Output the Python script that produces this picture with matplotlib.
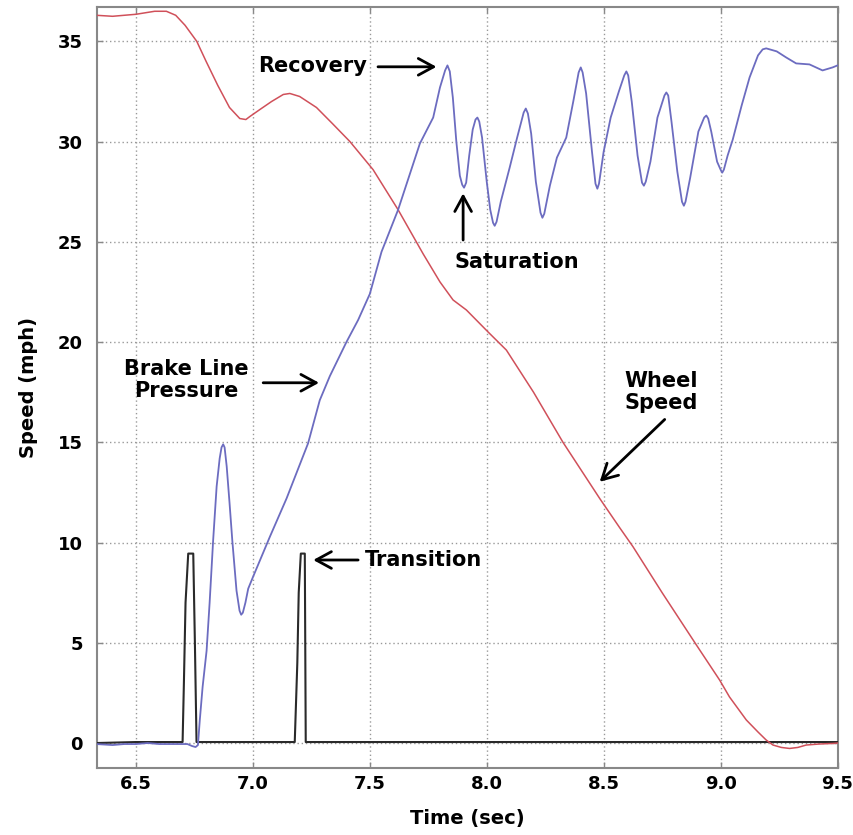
import matplotlib
matplotlib.use("Agg")
import matplotlib.pyplot as plt

# wheel speed (red)
wheel_t = [6.33, 6.40, 6.50, 6.58, 6.63, 6.67, 6.71, 6.76, 6.80, 6.85, 6.90, 6.944, 6.97,
           6.987, 7.03, 7.08, 7.13, 7.158, 7.20, 7.272, 7.34, 7.415, 7.514, 7.621, 7.728,
           7.80, 7.856, 7.913, 8.006, 8.084, 8.20, 8.326, 8.483, 8.568, 8.625, 8.75, 8.896,
           8.996, 9.038, 9.11, 9.16, 9.195, 9.224, 9.26, 9.295, 9.33, 9.366, 9.42, 9.48, 9.5]
wheel_v = [36.3, 36.25, 36.35, 36.5, 36.5, 36.3, 35.8, 35.0, 34.0, 32.8, 31.7, 31.15, 31.1,
           31.25, 31.6, 32.0, 32.35, 32.4, 32.25, 31.7, 30.9, 30.0, 28.6, 26.6, 24.4,
           23.0, 22.1, 21.6, 20.5, 19.6, 17.5, 15.0, 12.2, 10.75, 9.8, 7.5, 4.9,
           3.14, 2.3, 1.15, 0.55, 0.15, -0.1, -0.22, -0.27, -0.22, -0.1, -0.05, -0.02, 0.0]

# brake line pressure (blue)
brake_t = [6.33, 6.40, 6.45, 6.50, 6.55, 6.60, 6.65, 6.70, 6.72, 6.74, 6.755, 6.765, 6.773,
           6.785, 6.802, 6.815, 6.83, 6.845, 6.858, 6.866, 6.873, 6.879, 6.888, 6.90, 6.912,
           6.93, 6.943, 6.95, 6.957, 6.968, 6.98, 7.001, 7.073, 7.144, 7.236, 7.286, 7.329,
           7.40, 7.45, 7.50, 7.55, 7.621, 7.714, 7.771, 7.80, 7.822, 7.832, 7.842, 7.855,
           7.87, 7.885, 7.895, 7.903, 7.912, 7.925, 7.94, 7.952, 7.96, 7.968, 7.98, 8.00,
           8.015, 8.027, 8.034, 8.042, 8.06, 8.098, 8.13, 8.158, 8.167, 8.176, 8.19, 8.21,
           8.23, 8.238, 8.246, 8.27, 8.30, 8.34, 8.37, 8.393, 8.402, 8.41, 8.425, 8.45,
           8.465, 8.473, 8.48, 8.50, 8.53, 8.565, 8.588, 8.597, 8.605, 8.62, 8.645, 8.664,
           8.672, 8.68, 8.70, 8.73, 8.76, 8.768, 8.776, 8.79, 8.815, 8.835, 8.843, 8.85,
           8.87, 8.905, 8.93, 8.939, 8.947, 8.96, 8.985, 9.0, 9.007, 9.014, 9.03, 9.052,
           9.09, 9.124, 9.16, 9.18, 9.195, 9.21, 9.24, 9.28, 9.323, 9.38, 9.436, 9.479, 9.5]
brake_v = [-0.05, -0.1, -0.05, -0.05, 0.0, -0.05, -0.05, -0.05, -0.05, -0.15, -0.2, -0.1, 1.15,
           2.8, 4.6, 7.0, 10.1, 12.8, 14.2, 14.75, 14.9, 14.75, 13.8, 12.0, 10.1,
           7.6, 6.6, 6.4, 6.5, 7.0, 7.7, 8.3, 10.3, 12.2, 14.95, 17.1, 18.3,
           20.0, 21.1, 22.4, 24.5, 26.6, 29.9, 31.2, 32.7, 33.55, 33.8, 33.5, 32.2,
           30.0, 28.3, 27.85, 27.7, 27.95, 29.3, 30.6, 31.1, 31.2, 31.0, 30.2, 28.0,
           26.6, 25.95, 25.8, 26.0, 27.0, 28.7, 30.2, 31.45, 31.65, 31.4, 30.4, 28.0,
           26.45, 26.2, 26.4, 27.8, 29.2, 30.2, 32.0, 33.45, 33.7, 33.45, 32.4, 29.5,
           27.9, 27.65, 27.9, 29.5, 31.2, 32.5, 33.3, 33.5, 33.3, 32.0, 29.3, 27.95,
           27.8, 28.0, 29.0, 31.2, 32.3, 32.45, 32.3, 31.0, 28.5, 27.0, 26.8, 27.0,
           28.2, 30.5, 31.2, 31.3, 31.15, 30.5, 29.0, 28.6, 28.45, 28.6, 29.3, 30.1,
           31.8, 33.2, 34.3, 34.6, 34.65, 34.6, 34.5, 34.2, 33.9, 33.85, 33.55, 33.7, 33.8]

# transition signal (black)
trans_t = [6.33, 6.50, 6.6994, 6.705, 6.712, 6.7235, 6.745, 6.752, 6.759, 7.00,
           7.179, 7.19, 7.196, 7.205, 7.222, 7.226, 7.60, 8.20, 9.00, 9.5]
trans_v = [0.0, 0.05, 0.05, 3.0, 7.0, 9.45, 9.45, 5.0, 0.05, 0.05,
           0.05, 4.0, 7.5, 9.45, 9.45, 0.05, 0.05, 0.05, 0.05, 0.05]

xticks = [6.5, 7.0, 7.5, 8.0, 8.5, 9.0, 9.5]
yticks = [0, 5, 10, 15, 20, 25, 30, 35]

fig = plt.figure(figsize=(8.54, 8.35), dpi=100)
ax = fig.add_axes([0.1132, 0.0806, 0.8675, 0.9107])

ax.plot(trans_t, trans_v, color="#2a2a2a", lw=1.5, zorder=3)
ax.plot(wheel_t, wheel_v, color="#d0505a", lw=1.1, zorder=4)
ax.plot(brake_t, brake_v, color="#6c6cc0", lw=1.3, zorder=5)

ax.set_xlim(6.332, 9.5)
ax.set_ylim(-1.23, 36.7)
ax.set_xticks(xticks)
ax.set_xticklabels(["%.1f" % t for t in xticks])
ax.set_yticks(yticks)

ax.grid(True, color="#999999", linestyle=(0, (1, 2)), lw=1.0)
for s in ax.spines.values():
    s.set_color("#888888")
    s.set_linewidth(1.5)
ax.tick_params(direction="in", top=True, right=True, length=4, width=1, color="#888888",
               labelsize=13)
ax.tick_params(axis="x", pad=5)
ax.tick_params(axis="y", pad=10)
for lab in ax.get_xticklabels() + ax.get_yticklabels():
    lab.set_fontweight("bold")

ax.set_xlabel("Time (sec)", fontsize=14, fontweight="bold", labelpad=12)
ax.set_ylabel("Speed (mph)", fontsize=14, fontweight="bold", labelpad=14)

arrow = dict(arrowstyle="->,head_length=0.55,head_width=0.3", color="black", lw=2,
             mutation_scale=20, shrinkA=0, shrinkB=0)
tfont = dict(fontsize=15, fontweight="bold", color="black")

ax.text(7.49, 33.75, "Recovery", ha="right", va="center", **tfont)
ax.annotate("", xy=(7.785, 33.73), xytext=(7.535, 33.73), arrowprops=arrow)

ax.text(7.863, 23.7, "Saturation", ha="left", va="baseline", **tfont)
ax.annotate("", xy=(7.899, 27.42), xytext=(7.899, 25.09), arrowprops=arrow)

ax.text(6.716, 18.1, "Brake Line\nPressure", ha="center", va="center", linespacing=1.1, **tfont)
ax.annotate("", xy=(7.283, 17.97), xytext=(7.044, 17.97), arrowprops=arrow)

ax.text(8.747, 17.5, "Wheel\nSpeed", ha="center", va="center", linespacing=1.1, **tfont)
ax.annotate("", xy=(8.483, 13.03), xytext=(8.761, 16.14), arrowprops=arrow)

ax.text(7.479, 9.13, "Transition", ha="left", va="center", **tfont)
ax.annotate("", xy=(7.258, 9.13), xytext=(7.45, 9.13), arrowprops=arrow)

fig.savefig("out.png", dpi=100)
